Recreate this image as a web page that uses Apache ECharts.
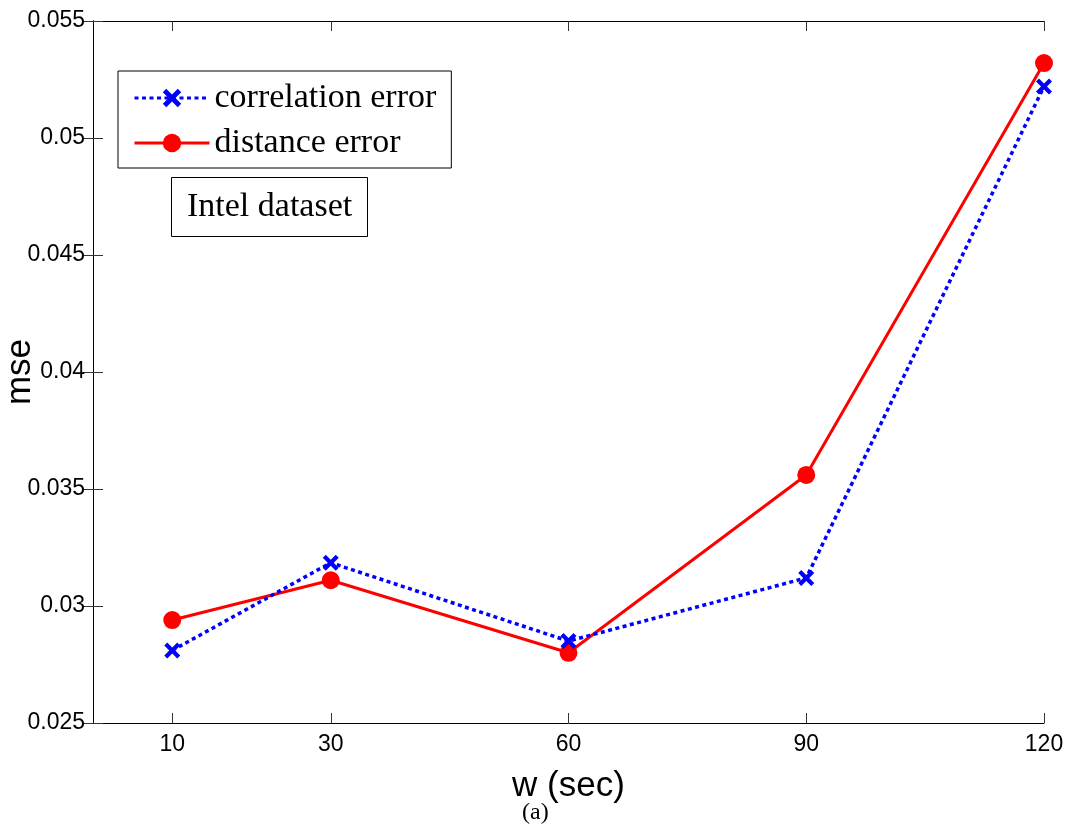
<!DOCTYPE html>
<html>
<head>
<meta charset="utf-8">
<script src="https://cdn.jsdelivr.net/npm/echarts@6/dist/echarts.min.js"></script>
<style>
  html, body { margin: 0; padding: 0; background: #fff; }
  #chart { width: 1067px; height: 827px; }
</style>
</head>
<body>
<div id="chart"></div>
<script>
// data
const windowSec = [10, 30, 60, 90, 120];
const correlationError = [0.0281, 0.03185, 0.0285, 0.0312, 0.0522];
const distanceError = [0.0294, 0.0311, 0.0280, 0.0356, 0.0532];
const yTickValues = [0.025, 0.03, 0.035, 0.04, 0.045, 0.05, 0.055];

// filled "x" marker
const crossPath = "path://M0,3L3,0L8,5L13,0L16,3L11,8L16,13L13,16L8,11L3,16L0,13L5,8Z";

const sans = "Liberation Sans, Arial, sans-serif";
const serif = "Liberation Serif, Times New Roman, serif";

const chart = echarts.init(document.getElementById("chart"));

// x axis: bottom one has labels, top one only mirrors ticks
const xBase = {
  type: "value",
  min: 0,
  max: 120,
  splitLine: { show: false },
  axisLine: { lineStyle: { color: "#000", width: 1 } },
  axisTick: {
    inside: true,
    length: 10,
    customValues: windowSec,
    lineStyle: { color: "#333", width: 1 },
  },
};

// same for y: left has labels, right only ticks
const yBase = {
  type: "value",
  min: 0.025,
  max: 0.055,
  splitLine: { show: false },
  axisLine: { show: true, lineStyle: { color: "#000", width: 1 } },
  axisTick: {
    show: true,
    inside: true,
    length: 10,
    customValues: yTickValues,
    lineStyle: { color: "#333", width: 1 },
  },
};

const option = {
  animation: false,
  backgroundColor: "#fff",
  title: [
    {
      text: "Intel dataset",
      left: 171,
      top: 177,
      padding: [13, 16, 13, 16],
      borderColor: "#000",
      borderWidth: 1,
      textStyle: { fontFamily: serif, fontSize: 34, fontWeight: "normal", color: "#000" },
    },
    {
      text: "(a)",
      left: 522,
      top: 801,
      padding: 0,
      textStyle: { fontFamily: serif, fontSize: 24, fontWeight: "normal", color: "#000" },
    },
  ],
  legend: {
    orient: "vertical",
    left: 118,
    top: 71,
    padding: [10, 15, 8, 15],
    itemGap: 11,
    itemWidth: 75,
    itemHeight: 23,
    borderColor: "#000",
    borderWidth: 1,
    backgroundColor: "#fff",
    lineStyle: { width: 3 },
    textStyle: { fontFamily: serif, fontSize: 34, color: "#000" },
    data: ["correlation error", "distance error"],
  },
  grid: { left: 93, right: 23, top: 21, bottom: 104, containLabel: false, outerBoundsMode: "none" },
  xAxis: [
    Object.assign({}, xBase, {
      position: "bottom",
      name: "w (sec)",
      nameLocation: "middle",
      nameGap: 46,
      nameMoveOverlap: false,
      nameTextStyle: { fontFamily: sans, fontSize: 35, color: "#000" },
      axisLabel: {
        customValues: windowSec,
        margin: 10,
        fontFamily: sans,
        fontSize: 23,
        color: "#000",
      },
    }),
    Object.assign({}, xBase, {
      position: "top",
      axisLabel: { show: false },
    }),
  ],
  yAxis: [
    Object.assign({}, yBase, {
      position: "left",
      name: "mse",
      nameLocation: "middle",
      nameGap: 55,
      nameMoveOverlap: false,
      nameTextStyle: { fontFamily: sans, fontSize: 35, color: "#000" },
      axisLabel: {
        customValues: yTickValues,
        margin: 8,
        fontFamily: sans,
        fontSize: 23,
        color: "#000",
      },
    }),
    Object.assign({}, yBase, {
      position: "right",
      axisLabel: { show: false },
    }),
  ],
  series: [
    {
      name: "correlation error",
      type: "line",
      data: windowSec.map((w, i) => [w, correlationError[i]]),
      symbol: crossPath,
      symbolSize: 16,
      showAllSymbol: true,
      color: "#0000ff",
      itemStyle: { color: "#0000ff" },
      lineStyle: { color: "#0000ff", width: 3.5, type: [4, 3.5] },
      z: 3,
    },
    {
      name: "distance error",
      type: "line",
      data: windowSec.map((w, i) => [w, distanceError[i]]),
      symbol: "circle",
      symbolSize: 18,
      showAllSymbol: true,
      color: "#ff0000",
      itemStyle: { color: "#ff0000" },
      lineStyle: { color: "#ff0000", width: 3 },
      z: 2,
    },
  ],
};

chart.setOption(option);
</script>
</body>
</html>
